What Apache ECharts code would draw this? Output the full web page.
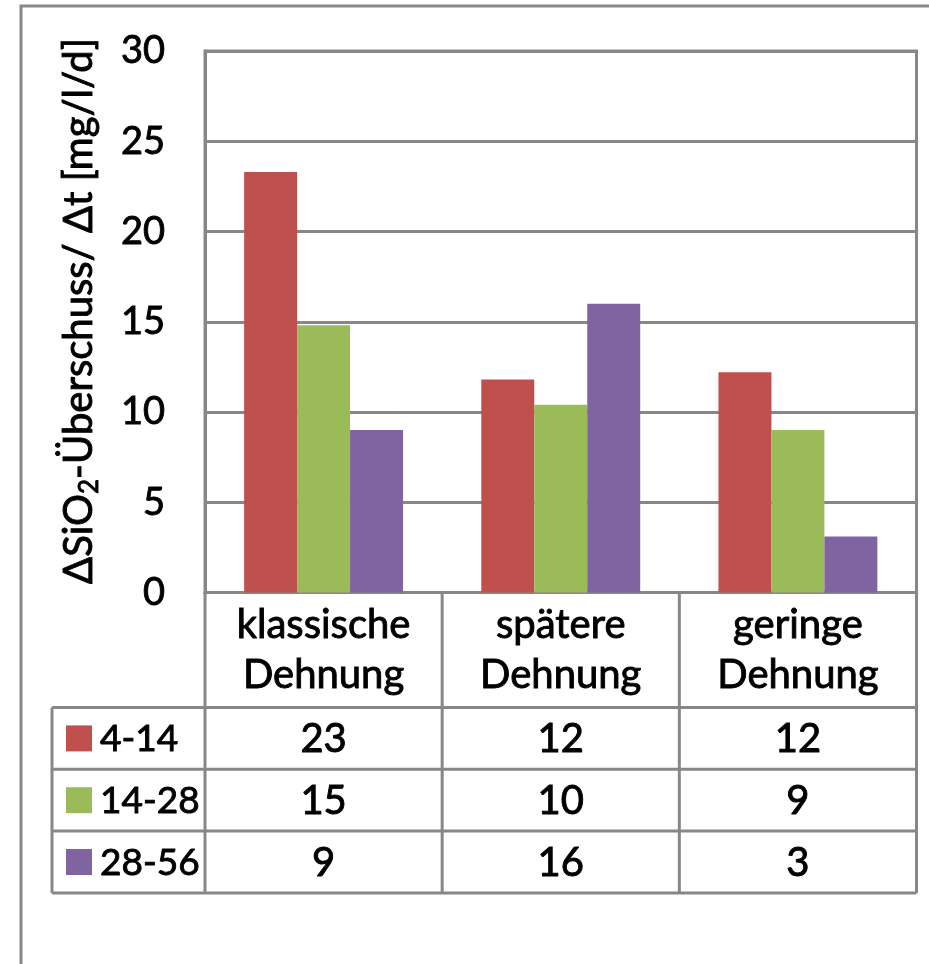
<!DOCTYPE html>
<html>
<head>
<meta charset="utf-8">
<script src="https://cdn.jsdelivr.net/npm/echarts@6/dist/echarts.min.js"></script>
<style>
html,body{margin:0;padding:0;background:#fff;}
#chart{width:929px;height:964px;}
</style>
</head>
<body>
<div id="chart"></div>
<script>
// ---- data ----
const categories = ['klassische\nDehnung', 'spätere\nDehnung', 'geringe\nDehnung'];
const seriesNames = ['4-14', '14-28', '28-56'];
const values_4_14 = [23.3, 11.8, 12.2];
const values_14_28 = [14.8, 10.4, 9.0];
const values_28_56 = [9.0, 16.0, 3.1];
const yMin = 0, yMax = 30, yStep = 5;
const axisTitle = ['ΔSiO', '2', '-Überschuss/ Δt [mg/l/d]'];

const seriesValues = [values_4_14, values_14_28, values_28_56];
const colors = ['#C0504D', '#9BBB59', '#8064A2'];
const FONT = 'Lato';
const LINE = '#878787';
const TB = 0.9; // slight text thickening

const chart = echarts.init(document.getElementById('chart'), null, {renderer: 'canvas'});

const option = {
  animation: false,
  backgroundColor: '#fff',
  textStyle: {fontFamily: FONT, color: '#000'},
  grid: {left: 205, top: 51, right: 12.5, bottom: 371.5, show: true, borderColor: LINE, borderWidth: 3, backgroundColor: 'transparent'},
  xAxis: {
    type: 'category',
    data: categories,
    axisLine: {show: true, lineStyle: {color: LINE, width: 3}},
    axisTick: {show: false},
    axisLabel: {fontFamily: FONT, fontSize: 40, lineHeight: 50, color: '#000', margin: 8, interval: 0, textBorderColor: '#000', textBorderWidth: TB}
  },
  yAxis: {
    type: 'value',
    min: yMin, max: yMax, interval: yStep,
    axisLine: {show: true, lineStyle: {color: LINE, width: 3}},
    axisTick: {show: false},
    splitLine: {show: true, lineStyle: {color: LINE, width: 3}},
    axisLabel: {fontFamily: FONT, fontSize: 38, color: '#000', margin: 40, textBorderColor: '#000', textBorderWidth: TB}
  },
  series: seriesNames.map((n, i) => ({
    name: n,
    type: 'bar',
    data: seriesValues[i],
    itemStyle: {color: colors[i]},
    barGap: '0%',
    barCategoryGap: '33%'
  }))
};
chart.setOption(option);

// ---- table + frame (positions derived from the chart's axes) ----
const c0 = chart.convertToPixel({xAxisIndex: 0}, 0);
const c1 = chart.convertToPixel({xAxisIndex: 0}, 1);
const band = c1 - c0;
const centers = categories.map((_, i) => chart.convertToPixel({xAxisIndex: 0}, i));
const gLeft = c0 - band / 2;
const gRight = gLeft + band * categories.length;
const yBase = chart.convertToPixel({yAxisIndex: 0}, 0);
const headerBottom = yBase + 115;
const rowH = 61.8;
const tableLeft = 52;
const rowTops = seriesNames.map((_, i) => headerBottom + i * rowH);
const tableBottom = headerBottom + seriesNames.length * rowH;

const g = [];
// outer frame
g.push({type: 'rect', shape: {x: 21, y: 6, width: 1000, height: 1100}, style: {fill: 'none', stroke: LINE, lineWidth: 3}, z: 100});
// vertical lines
for (let i = 0; i <= categories.length; i++) {
  const x = gLeft + band * i;
  g.push({type: 'line', shape: {x1: x, y1: yBase, x2: x, y2: tableBottom}, style: {stroke: LINE, lineWidth: 3}, z: 100});
}
g.push({type: 'line', shape: {x1: tableLeft, y1: headerBottom, x2: tableLeft, y2: tableBottom}, style: {stroke: LINE, lineWidth: 3}, z: 100});
// horizontal lines
for (let r = 0; r <= seriesNames.length; r++) {
  const y = headerBottom + r * rowH;
  g.push({type: 'line', shape: {x1: tableLeft, y1: y, x2: gRight, y2: y}, style: {stroke: LINE, lineWidth: 3}, z: 100});
}
// rows
seriesNames.forEach((n, r) => {
  const cy = rowTops[r] + rowH / 2;
  g.push({type: 'rect', shape: {x: 66, y: cy - 13, width: 26, height: 26}, style: {fill: colors[r]}, z: 100});
  g.push({type: 'text', x: 100, y: cy + 1, style: {text: n, fontFamily: FONT, fontSize: 37, fill: '#000', stroke: '#000', lineWidth: TB, textAlign: 'left', textVerticalAlign: 'middle'}, z: 100});
  seriesValues[r].forEach((v, i) => {
    g.push({type: 'text', x: centers[i], y: cy + 1, style: {text: String(Math.round(v)), fontFamily: FONT, fontSize: 40, fill: '#000', stroke: '#000', lineWidth: TB, textAlign: 'center', textVerticalAlign: 'middle'}, z: 100});
  });
});
// y-axis title
g.push({
  type: 'text', x: 79, y: 311, rotation: Math.PI / 2,
  style: {
    text: '{a|' + axisTitle[0] + '}{s|' + axisTitle[1] + '}{a|' + axisTitle[2] + '}',
    fontFamily: FONT, fill: '#000', stroke: '#000', lineWidth: TB, textAlign: 'center', textVerticalAlign: 'middle',
    rich: {
      a: {fontFamily: FONT, fontSize: 40, lineHeight: 48, fill: '#000', stroke: '#000', lineWidth: TB},
      s: {fontFamily: FONT, fontSize: 26, lineHeight: 48, fill: '#000', stroke: '#000', lineWidth: TB, verticalAlign: 'bottom', padding: [20, 0, 0, 0]}
    }
  },
  z: 100
});
chart.setOption({graphic: {elements: g}});
</script>
</body>
</html>
